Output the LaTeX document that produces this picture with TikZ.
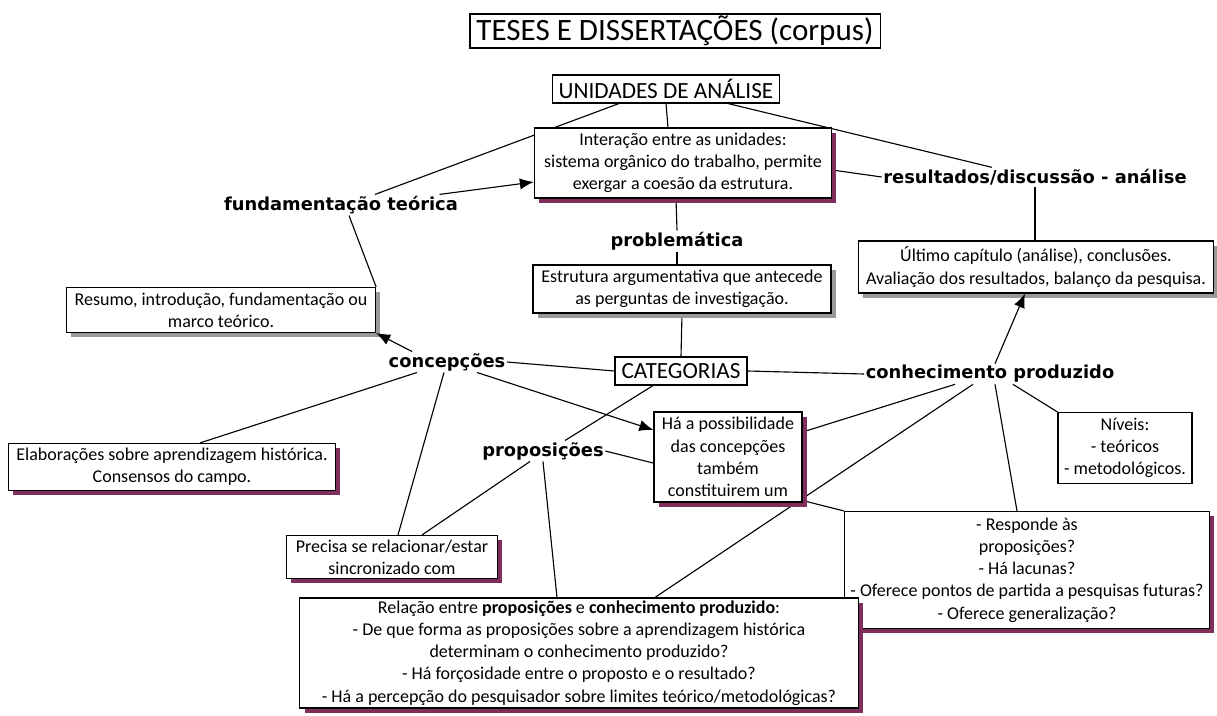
\documentclass[tikz,border=0pt]{standalone}
\usepackage{fontspec}
\setmainfont{Carlito}
\newfontfamily\conceptfont{DejaVu Sans}
\usepackage{tikz}
\usetikzlibrary{positioning,calc,shadows,arrows.meta}
\definecolor{shmaroon}{RGB}{128,46,92}
\tikzset{box/.style={draw,fill=white,align=center,inner sep=0pt,line width=0.8pt,font=\fontsize{12.8}{15.8}\selectfont},
	redshadow/.style={drop shadow={shadow xshift=0.12cm,shadow yshift=-0.12cm,fill=shmaroon,opacity=1}},
	grayshadow/.style={drop shadow={shadow xshift=0.12cm,shadow yshift=-0.12cm,fill=black!40,opacity=1}},
	concept/.style={inner sep=1pt,font=\conceptfont\bfseries\fontsize{12.7}{15}\selectfont},
	bigtext/.style={font=\fontsize{16.5}{19}\selectfont},
	link/.style={line width=0.8pt},
	arrowlink/.style={line width=0.8pt,-{Latex[length=10pt,width=8pt]}},
}
\pgfdeclarelayer{background}
\pgfsetlayers{background,main}

\begin{document}
\begin{tikzpicture}[x=0.025cm,y=-0.025cm]
			\useasboundingbox (0,0) rectangle (1217,716);
			
			%%
			\node[box,minimum width=10.25cm,minimum height=0.85cm,font=\fontsize{22.1}{26}\selectfont] (title) at (675,31) {TESES E DISSERTAÇÕES (corpus)};
			\node[box,bigtext,minimum width=5.675cm,minimum height=0.7cm] (unid) at (666,89) {UNIDADES DE ANÁLISE};
			\node[box,redshadow,minimum width=7.425cm,minimum height=1.75cm] (inter) at (683,163) {Interação entre as unidades:\\ sistema orgânico do trabalho, permite\\ exergar a coesão da estrutura.};
			\node[concept] (fund) at (341,205) {fundamentação teórica};
			\node[concept] (probl) at (677,241) {problemática};
			\node[concept] (result) at (1035,177) {resultados/discussão - análise};
			\node[box,grayshadow,minimum width=7.45cm,minimum height=1.2cm] (estr) at (682,289) {Estrutura argumentativa que antecede\\ as perguntas de investigação.};
			\node[box,grayshadow,minimum width=8.875cm,minimum height=1.3cm] (ultimo) at (1036,267) {Último capítulo (análise), conclusões.\\ Avaliação dos resultados, balanço da pesquisa.};
			\node[box,grayshadow,minimum width=7.725cm,minimum height=1.125cm] (resumo) at (221,310) {Resumo, introdução, fundamentação ou\\ marco teórico.};
			\node[concept] (concep) at (447,362) {concepções};
			\node[box,bigtext,minimum width=3.3cm,minimum height=0.7cm] (categ) at (681,371) {CATEGORIAS};
			\node[concept] (conhec) at (990,374) {conhecimento produzido};
			\node[concept] (propos) at (543,451) {proposições};
			\node[box,redshadow,minimum width=3.7cm,minimum height=2.25cm] (ha) at (728,457) {Há a possibilidade\\ das concepções\\ também\\ constituirem um};
			\node[box,minimum width=3.35cm,minimum height=1.775cm] (niveis) at (1125,448) {Níveis:\\ - teóricos\\ - metodológicos.};
			\node[box,redshadow,minimum width=8.175cm,minimum height=1.175cm] (elab) at (172,467) {Elaborações sobre aprendizagem histórica.\\ Consensos do campo.};
			\node[box,redshadow,minimum width=5.275cm,minimum height=1.075cm] (precisa) at (392,557) {Precisa se relacionar/estar\\ sincronizado com};
			\node[box,redshadow,minimum width=9.125cm,minimum height=2.925cm] (resp) at (1027,570) {- Responde às\\ proposições?\\ - Há lacunas?\\ - Oferece pontos de partida a pesquisas futuras?\\ - Oferece generalização?};
			\node[box,redshadow,minimum width=13.95cm,minimum height=2.75cm] (relacao) at (579,653) {Relação entre \textbf{proposições} e \textbf{conhecimento produzido}:\\ - De que forma as proposições sobre a aprendizagem histórica\\ determinam o conhecimento produzido?\\ - Há forçosidade entre o proposto e o resultado?\\ - Há a percepção do pesquisador sobre limites teórico/metodológicas?};
			
			% lines behind the boxes
			\begin{pgfonlayer}{background}
			\path[draw,link]
			($(unid.south west)+(67,0)$) edge ($(fund.north)+(34,0)$)
			(unid.south) edge ($(inter.north)+(-15,0)$)
			($(unid.south east)+(-52,0)$) edge ($(result.north)+(-43,0)$)
			($(inter.east)+(0,7)$) edge (result.west)
			(result.south) edge (result.south |- ultimo.north)
			($(inter.south)+(-7,0)$) edge (probl.north)
			(probl.south) edge (probl.south |- estr.north)
			(estr.south) edge (categ.north)
			($(fund.south)+(8,0)$) edge (resumo.north east)
			(concep.east) edge (categ.west)
			(categ.east) edge (conhec.west)
			($(concep.south west)+(30,0)$) edge ($(elab.north)+(28,0)$)
			($(concep.south)+(-3,0)$) edge ($(precisa.north)+(6,0)$)
			($(categ.south)+(-28,0)$) edge ($(propos.north)+(22,0)$)
			(propos.east) edge (resp.north west)
			($(propos.south)+(-13,0)$) edge ($(precisa.north)+(30,0)$)
			(propos.south) edge ($(relacao.north)+(-22,0)$)
			($(conhec.south)+(-35,0)$) edge ($(ha.east)+(0,-25)$)
			($(conhec.south)+(-17,0)$) edge ($(relacao.north)+(76,0)$)
			($(conhec.south)+(5,0)$) edge ($(resp.north)+(-10,0)$)
			($(conhec.south east)+(-103,0)$) edge (niveis.north west)
			;
			\end{pgfonlayer}
			
			% arrows
			\draw[arrowlink] ($(fund.north east)+(-20,0)$) -- ($(inter.west)+(0,19)$);
			\draw[arrowlink] ($(concep.north west)+(25,0)$) -- (resumo.south east);
			\draw[arrowlink] ($(conhec.north)+(5,0)$) -- ($(ultimo.south)+(-11,0)$);
			\draw[arrowlink] ($(concep.south east)+(-30,0)$) -- ($(ha.west)+(0,-27)$);
\end{tikzpicture}
\end{document}
